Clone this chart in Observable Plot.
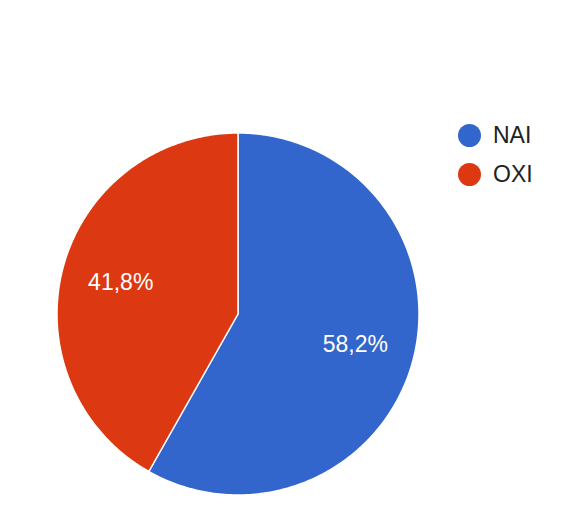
<!DOCTYPE html>
<html>
<head>
<meta charset="utf-8">
<script src="https://cdn.jsdelivr.net/npm/d3@7"></script>
<script src="https://cdn.jsdelivr.net/npm/@observablehq/plot@0.6"></script>
<style>
  html, body { margin: 0; padding: 0; background: #ffffff; }
  #wrap { position: relative; width: 577px; height: 515px; font-family: "Liberation Sans", Arial, sans-serif; }
  #legend { position: absolute; left: 458px; top: 115.5px; font-size: 23px; line-height: 39px; color: #222; }
  .item { display: flex; align-items: center; height: 39px; }
  .sw { width: 23px; height: 23px; border-radius: 50%; margin-right: 12px; flex: none; }
</style>
</head>
<body>
<div id="wrap"></div>
<script>
const categories = ["NAI", "OXI"];
const values = [58.2, 41.8];
const labels = ["58,2%", "41,8%"];
const colors = ["#3366CC", "#DC3912"];

const pie = d3.pie().sort(null).value(d => d.value).startAngle(0).endAngle(2 * Math.PI);
const arcs = pie(categories.map((c, i) => ({key: c, value: values[i], label: labels[i]})));

// slice outlines sampled along each arc (unit circle, angle measured clockwise from top)
const rows = [];
for (const a of arcs) {
  rows.push({key: a.data.key, x: 0, y: 0});
  const n = 240;
  for (let k = 0; k <= n; k++) {
    const t = a.startAngle + (a.endAngle - a.startAngle) * k / n;
    rows.push({key: a.data.key, x: Math.sin(t), y: Math.cos(t)});
  }
}
const labelRows = arcs.map(a => {
  const m = (a.startAngle + a.endAngle) / 2;
  return {key: a.data.key, label: a.data.label, x: 0.67 * Math.sin(m), y: 0.67 * Math.cos(m)};
});

const chart = Plot.plot({
  width: 577,
  height: 515,
  marginLeft: 56.5,
  marginRight: 158.5,
  marginTop: 132.5,
  marginBottom: 20.5,
  x: {domain: [-1, 1], axis: null},
  y: {domain: [-1, 1], axis: null},
  color: {domain: categories, range: colors},
  style: {background: "transparent", fontFamily: "Liberation Sans, Arial, sans-serif"},
  marks: [
    Plot.line(rows, {x: "x", y: "y", z: "key", fill: "key", stroke: "white", strokeWidth: 1.5, curve: "linear-closed"}),
    Plot.text(labelRows, {x: "x", y: "y", text: "label", fill: "white", fontSize: 23})
  ]
});
const wrap = document.getElementById("wrap");
wrap.appendChild(chart);

const legend = document.createElement("div");
legend.id = "legend";
categories.forEach((c, i) => {
  const it = document.createElement("div");
  it.className = "item";
  const sw = document.createElement("span");
  sw.className = "sw";
  sw.style.background = colors[i];
  const tx = document.createElement("span");
  tx.textContent = c;
  it.appendChild(sw);
  it.appendChild(tx);
  legend.appendChild(it);
});
wrap.appendChild(legend);
</script>
</body>
</html>
